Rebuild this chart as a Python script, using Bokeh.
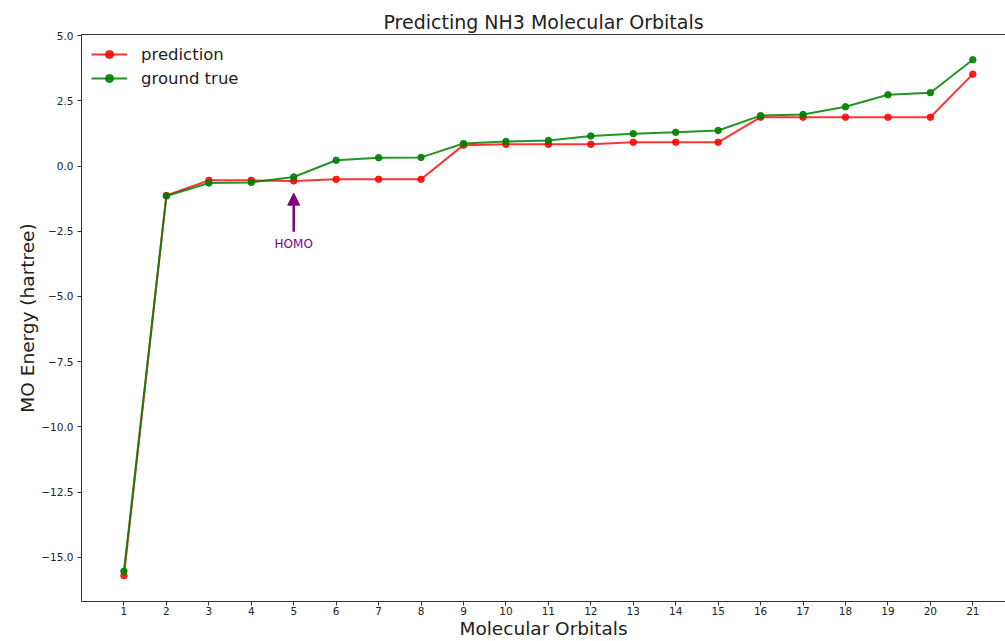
from bokeh.plotting import figure
from bokeh.models import (ColumnDataSource, FixedTicker, Range1d, Arrow, NormalHead,
                          Label, LinearAxis, Legend)
from bokeh.embed import file_html
from bokeh.resources import INLINE

# ---- data ----
orbitals = list(range(1, 22))
prediction = [-15.70, -1.13, -0.55, -0.55, -0.57, -0.51, -0.51, -0.51, 0.80, 0.83, 0.83,
              0.83, 0.91, 0.91, 0.91, 1.87, 1.87, 1.87, 1.87, 1.87, 3.52]
ground_true = [-15.53, -1.15, -0.65, -0.63, -0.42, 0.22, 0.32, 0.33, 0.86, 0.94, 0.98,
               1.15, 1.24, 1.29, 1.36, 1.93, 1.97, 2.27, 2.73, 2.81, 4.07]
y_ticks = [-15.0, -12.5, -10.0, -7.5, -5.0, -2.5, 0.0, 2.5, 5.0]
y_tick_labels = ["\u221215.0", "\u221212.5", "\u221210.0", "\u22127.5", "\u22125.0",
                 "\u22122.5", "0.0", "2.5", "5.0"]
homo_index = 5
homo_label = "HOMO"

FONT = "DejaVu Sans"

src = ColumnDataSource(dict(x=orbitals, pred=prediction, gt=ground_true))

p = figure(width=1005, height=641, output_backend="svg", toolbar_location=None,
           x_range=Range1d(0, 21.77), y_range=Range1d(-16.69, 5.04),
           min_border_left=81, min_border_right=0, min_border_top=34, min_border_bottom=39,
           title="Predicting NH3 Molecular Orbitals")
p.outline_line_color = None
p.grid.visible = False
p.background_fill_color = "white"

p.title.text_font = FONT
p.title.text_font_size = "19px"
p.title.text_font_style = "normal"
p.title.align = "center"
p.title.text_color = "#222222"
p.title.standoff = 4

# axes
for ax in (p.xaxis[0], p.yaxis[0]):
    ax.axis_line_color = "#333333"
    ax.axis_line_width = 1
    ax.major_tick_line_color = "#333333"
    ax.major_tick_out = 4
    ax.major_tick_in = 0
    ax.minor_tick_line_color = None
    ax.major_label_text_font = FONT
    ax.major_label_text_font_size = "10.5px"
    ax.major_label_text_color = "#222222"
    ax.axis_label_text_font = FONT
    ax.axis_label_text_font_size = "18.5px"
    ax.axis_label_text_font_style = "normal"
    ax.axis_label_text_color = "#222222"

p.xaxis.ticker = FixedTicker(ticks=orbitals)
p.xaxis.axis_label = "Molecular Orbitals"
p.xaxis.major_label_standoff = 1
p.xaxis.axis_label_standoff = 0

p.yaxis.ticker = FixedTicker(ticks=y_ticks)
p.yaxis.major_label_overrides = {t: s for t, s in zip(y_ticks, y_tick_labels)}
p.yaxis.axis_label = "MO Energy (hartree)"
p.yaxis.major_label_standoff = 4
p.yaxis.axis_label_standoff = 0

# top spine
top = LinearAxis(ticker=FixedTicker(ticks=[]), axis_line_color="#333333",
                 major_tick_line_color=None, minor_tick_line_color=None,
                 major_label_text_font_size="0px")
p.add_layout(top, "above")

# series
r1 = p.line("x", "pred", source=src, line_color="red", line_width=2, line_alpha=0.8)
s1 = p.scatter("x", "pred", source=src, size=6.5, fill_color="red", line_color="red",
               fill_alpha=0.85, line_alpha=0.85)
r2 = p.line("x", "gt", source=src, line_color="green", line_width=2, line_alpha=0.85)
s2 = p.scatter("x", "gt", source=src, size=6.5, fill_color="green", line_color="green",
               fill_alpha=0.9, line_alpha=0.9)

legend = Legend(items=[("prediction", [r1, s1]), ("ground true", [r2, s2])],
                location="top_left", margin=10, padding=3, spacing=4,
                glyph_width=36, glyph_height=20, label_standoff=14,
                label_text_font=FONT, label_text_font_size="16.5px",
                label_text_color="#222222",
                border_line_color=None, background_fill_alpha=0)
p.add_layout(legend)

# HOMO annotation
homo_y = prediction[homo_index - 1]
p.add_layout(Arrow(x_start=homo_index, y_start=-2.52, x_end=homo_index, y_end=homo_y - 0.47,
                   line_color="purple", line_width=2.5,
                   end=NormalHead(size=12, fill_color="purple", line_color="purple")))
p.add_layout(Label(x=homo_index, y=-2.72, text=homo_label, text_align="center",
                   text_baseline="top", text_font=FONT, text_font_size="12px",
                   text_color="purple"))

open("out.html", "w").write(file_html(p, INLINE))
